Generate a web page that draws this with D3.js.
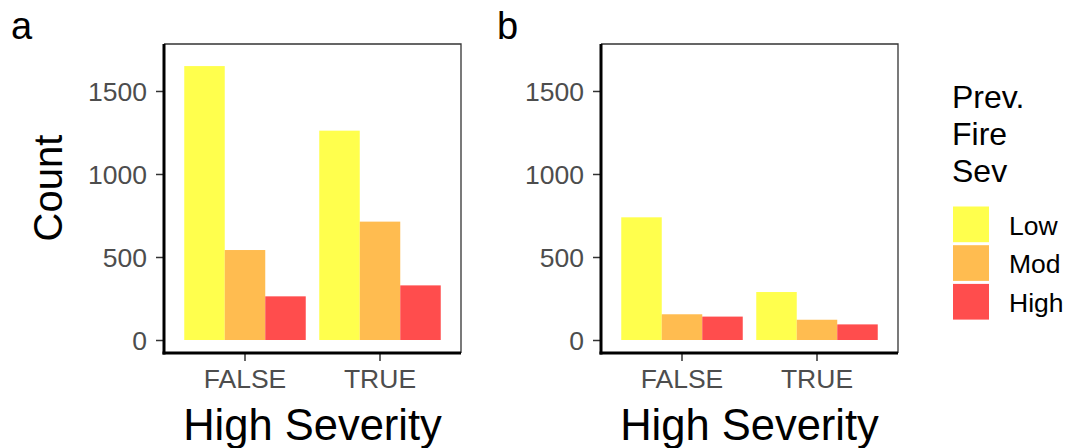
<!DOCTYPE html>
<html>
<head>
<meta charset="utf-8">
<script src="https://cdn.jsdelivr.net/npm/d3@7"></script>
<style>
  html, body { margin: 0; padding: 0; background: #fff; }
  svg { display: block; font-family: "Liberation Sans", Arial, sans-serif; }
</style>
</head>
<body>
<svg id="chart" width="1072" height="448"></svg>
<script>
// Counts of burned plots by high-severity outcome and previous fire severity
const groups = ["FALSE", "TRUE"];
const severities = ["Low", "Mod", "High"];
const sevColors = ["#FFFF4D", "#FFBC50", "#FF4D4D"];
const yTicks = [0, 500, 1000, 1500];

// panel a
const countsA = {
  FALSE: [1650, 542, 263],
  TRUE:  [1261, 713, 329]
};
// panel b
const countsB = {
  FALSE: [739, 155, 141],
  TRUE:  [289, 122, 94]
};

const legendTitle = ["Prev.", "Fire", "Sev"];
const xTitle = "High Severity";
const yTitle = "Count";

const svg = d3.select("#chart");
const plotTop = 44, plotBottom = 353;
const y = d3.scaleLinear().domain([-78.3, 1783]).range([plotBottom, plotTop]);
const color = d3.scaleOrdinal().domain(severities).range(sevColors);

function drawPanel(left, right, counts, label, tagX, showYTitle) {
  const g = svg.append("g");
  const x = d3.scaleBand().domain(groups).range([left, right])
    .paddingInner(0.1).paddingOuter(0.15);
  const xs = d3.scaleBand().domain(severities).range([0, x.bandwidth()]).padding(0);

  // bars
  groups.forEach(grp => {
    g.selectAll(null)
      .data(severities.map((s, i) => ({ s, v: counts[grp][i] })))
      .enter().append("rect")
      .attr("x", d => x(grp) + xs(d.s))
      .attr("width", xs.bandwidth())
      .attr("y", d => y(d.v))
      .attr("height", d => y(0) - y(d.v))
      .attr("fill", d => color(d.s));
  });

  // panel border (top and right)
  g.append("path")
    .attr("d", `M${left},${plotTop}H${right}V${plotBottom}`)
    .attr("fill", "none").attr("stroke", "#333").attr("stroke-width", 1.3);

  // y axis
  const ya = g.append("g").attr("transform", `translate(${left},0)`)
    .call(d3.axisLeft(y).tickValues(yTicks).tickSize(8).tickPadding(9).tickFormat(d3.format("d")));
  ya.select(".domain").remove();
  ya.selectAll(".tick line").attr("stroke", "#333").attr("stroke-width", 1.5);
  ya.selectAll(".tick text").attr("fill", "#4D4D4D")
    .style("font-size", "26.5px").attr("dy", "0.36em");
  g.append("line").attr("x1", left).attr("x2", left).attr("y1", plotTop).attr("y2", plotBottom + 1.5)
    .attr("stroke", "#000").attr("stroke-width", 3);

  // x axis
  const xa = g.append("g").attr("transform", `translate(0,${plotBottom})`)
    .call(d3.axisBottom(x).tickSize(8).tickPadding(8));
  xa.select(".domain").remove();
  xa.selectAll(".tick line").attr("stroke", "#333").attr("stroke-width", 1.5);
  xa.selectAll(".tick text").attr("fill", "#4D4D4D")
    .style("font-size", "26.5px").attr("dy", "0.71em");
  g.append("line").attr("x1", left - 1.5).attr("x2", right).attr("y1", plotBottom).attr("y2", plotBottom)
    .attr("stroke", "#000").attr("stroke-width", 3);

  // x title
  g.append("text").attr("x", (left + right) / 2).attr("y", 440)
    .attr("text-anchor", "middle").style("font-size", "43.5px").attr("fill", "#000")
    .text(xTitle);

  if (showYTitle) {
    g.append("text")
      .attr("transform", `translate(62,${(plotTop + plotBottom) / 2 - 10.5}) rotate(-90)`)
      .attr("text-anchor", "middle").style("font-size", "40px").attr("fill", "#000")
      .text(yTitle);
  }

  // panel tag
  g.append("text").attr("x", tagX).attr("y", 39)
    .style("font-size", "38px").attr("fill", "#000").text(label);
}

drawPanel(164, 461, countsA, "a", 11, true);
drawPanel(601, 898, countsB, "b", 497, false);

// legend
const lg = svg.append("g");
lg.selectAll(null).data(legendTitle).enter().append("text")
  .attr("x", 952).attr("y", (d, i) => 108 + i * 37)
  .style("font-size", "32px").attr("fill", "#000").text(d => d);

const keyTop = 205, keyStep = 38.7;
const keys = lg.selectAll(null).data(severities).enter().append("g")
  .attr("transform", (d, i) => `translate(953,${keyTop + i * keyStep})`);
keys.append("rect").attr("x", 0).attr("y", 1.5).attr("width", 36).attr("height", 35.7)
  .attr("fill", d => color(d));
keys.append("text").attr("x", 56).attr("y", 29.5)
  .style("font-size", "26.5px").attr("fill", "#000").text(d => d);
</script>
</body>
</html>
